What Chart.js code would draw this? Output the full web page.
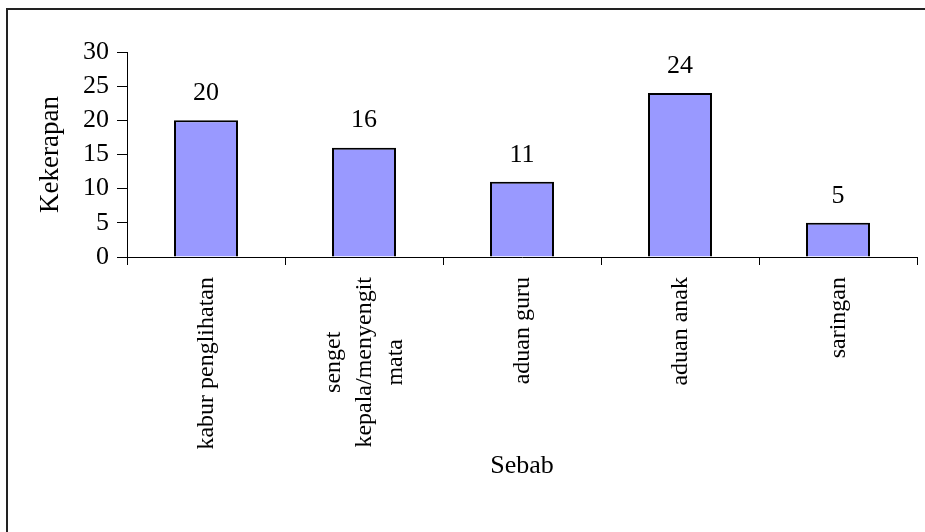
<!DOCTYPE html>
<html>
<head>
<meta charset="utf-8">
<script src="https://cdn.jsdelivr.net/npm/chart.js@4"></script>
<style>
  body { margin: 0; background: #fff; overflow: hidden; }
  canvas { display: block; }
</style>
</head>
<body>
<canvas id="grafik" width="925" height="532"></canvas>
<script>
// data carta
const sebab = [
  ['kabur penglihatan'],
  ['senget', 'kepala/menyengit', 'mata'],
  ['aduan guru'],
  ['aduan anak'],
  ['saringan']
]
const kekerapan = [20, 16, 11, 24, 5]
const tickY = [0, 5, 10, 15, 20, 25, 30]

const fon = 'Liberation Serif, Times New Roman, serif'

// bingkai luar (kiri dan atas sahaja, selebihnya terpotong)
const bingkai = {
  id: 'bingkai',
  afterDraw(chart) {
    const c = chart.ctx
    c.save()
    c.strokeStyle = '#222'
    c.lineWidth = 2
    c.beginPath()
    c.moveTo(7, 532)
    c.lineTo(7, 9)
    c.lineTo(925, 9)
    c.stroke()
    c.restore()
  }
}

// nilai di atas setiap bar
const labelNilai = {
  id: 'labelNilai',
  afterDatasetsDraw(chart) {
    const c = chart.ctx
    const meta = chart.getDatasetMeta(0)
    c.save()
    c.font = '26px ' + fon
    c.fillStyle = '#000'
    c.textAlign = 'center'
    c.textBaseline = 'middle'
    meta.data.forEach((bar, i) => {
      c.fillText(kekerapan[i], bar.x, bar.y - 27)
    })
    c.restore()
  }
}

// label paksi x, diputar dan baris di tengah
const labelX = {
  id: 'labelX',
  afterDraw(chart) {
    const c = chart.ctx
    const x = chart.scales.x
    const jarak = 20
    const tinggiBaris = 31
    c.save()
    c.font = '24px ' + fon
    c.fillStyle = '#000'
    c.textAlign = 'center'
    c.textBaseline = 'middle'
    sebab.forEach((baris, i) => {
      const px = x.getPixelForValue(i)
      const w = Math.max(...baris.map(t => c.measureText(t).width))
      c.save()
      c.translate(px + 1, x.top + jarak + w / 2)
      c.rotate(-Math.PI / 2)
      baris.forEach((t, j) => {
        c.fillText(t, 0, (j - (baris.length - 1) / 2) * tinggiBaris)
      })
      c.restore()
    })
    c.restore()
  }
}

const data = {
  labels: sebab.map(b => b.join(' ')),
  datasets: [{
    data: kekerapan,
    backgroundColor: '#9999FF',
    borderColor: '#000',
    borderWidth: 2,
    categoryPercentage: 1,
    barPercentage: 0.405
  }]
}

const config = {
  type: 'bar',
  data,
  options: {
    responsive: false,
    animation: false,
    layout: { padding: { top: 52, right: 8, left: 0, bottom: 0 } },
    plugins: {
      legend: { display: false },
      tooltip: { enabled: false }
    },
    scales: {
      x: {
        grid: { display: true, drawOnChartArea: false, color: '#000', tickLength: 8, offset: true },
        border: { color: '#000', width: 1 },
        ticks: { display: false },
        title: {
          display: true,
          text: 'Sebab',
          color: '#000',
          font: { family: fon, size: 26 },
          padding: { top: 0, bottom: 50 }
        },
        afterFit(s) { s.height = 275 }
      },
      y: {
        min: 0,
        max: 30,
        afterBuildTicks(s) { s.ticks = tickY.map(v => ({ value: v })) },
        grid: { display: true, drawOnChartArea: false, color: '#000', tickLength: 10 },
        border: { color: '#000', width: 1 },
        ticks: {
          color: '#000',
          padding: 8,
          autoSkip: false,
          font: { family: fon, size: 26 }
        },
        title: {
          display: true,
          text: 'Kekerapan',
          color: '#000',
          font: { family: fon, size: 27 },
          padding: { top: 35, bottom: 0 }
        },
        afterFit(s) { s.width = 127 }
      }
    }
  },
  plugins: [bingkai, labelNilai, labelX]
}

const grafik = new Chart(document.getElementById('grafik'), config)
</script>
</body>
</html>
